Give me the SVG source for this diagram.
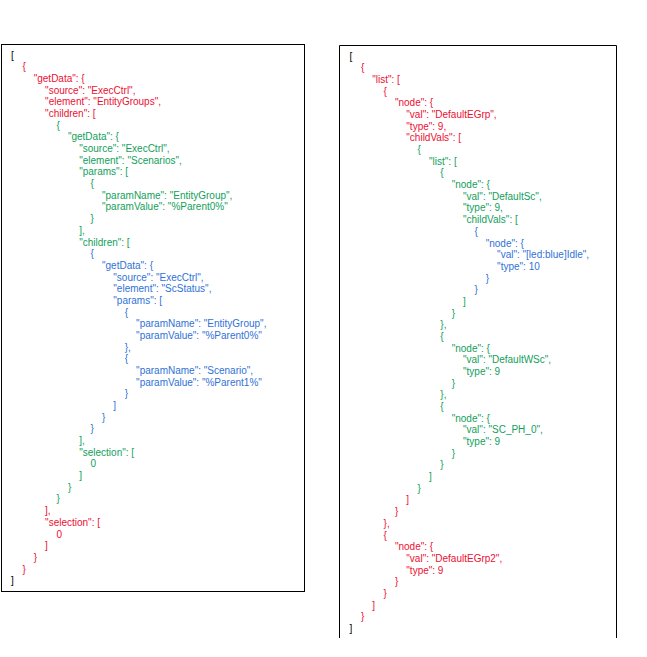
<svg xmlns="http://www.w3.org/2000/svg" width="647" height="657" viewBox="0 0 647 657">
<style>
text{font-family:"Liberation Sans",Arial,sans-serif;font-size:10px}
.k{fill:#000}
.r{fill:#ec0f32}
.g{fill:#12a05a}
.b{fill:#2f72d6}
.frame{fill:none;stroke:#000;stroke-width:1}
</style>
<rect width="647" height="657" fill="#fff"/>
<g id="left-json">
<rect class="frame" x="1.5" y="44.5" width="303" height="547"/>
<text class="k" x="11" y="58.6">[</text>
<text class="r" x="22.4" y="70.3">{</text>
<text class="r" x="33.7" y="82">"getData": {</text>
<text class="r" x="45.1" y="93.6">"source": "ExecCtrl",</text>
<text class="r" x="45.1" y="105.3">"element": "EntityGroups",</text>
<text class="r" x="45.1" y="117">"children": [</text>
<text class="g" x="56.5" y="128.7">{</text>
<text class="g" x="67.9" y="140.4">"getData": {</text>
<text class="g" x="79.2" y="152">"source": "ExecCtrl",</text>
<text class="g" x="79.2" y="163.7">"element": "Scenarios",</text>
<text class="g" x="79.2" y="175.4">"params": [</text>
<text class="g" x="90.6" y="187.1">{</text>
<text class="g" x="102" y="198.8">"paramName": "EntityGroup",</text>
<text class="g" x="102" y="210.4">"paramValue": "%Parent0%"</text>
<text class="g" x="90.6" y="222.1">}</text>
<text class="g" x="79.2" y="233.8">],</text>
<text class="g" x="79.2" y="245.5">"children": [</text>
<text class="b" x="90.6" y="257.2">{</text>
<text class="b" x="102" y="268.8">"getData": {</text>
<text class="b" x="113.3" y="280.5">"source": "ExecCtrl",</text>
<text class="b" x="113.3" y="292.2">"element": "ScStatus",</text>
<text class="b" x="113.3" y="303.9">"params": [</text>
<text class="b" x="124.7" y="315.6">{</text>
<text class="b" x="136.1" y="327.2">"paramName": "EntityGroup",</text>
<text class="b" x="136.1" y="338.9">"paramValue": "%Parent0%"</text>
<text class="b" x="124.7" y="350.6">},</text>
<text class="b" x="124.7" y="362.3">{</text>
<text class="b" x="136.1" y="374">"paramName": "Scenario",</text>
<text class="b" x="136.1" y="385.6">"paramValue": "%Parent1%"</text>
<text class="b" x="124.7" y="397.3">}</text>
<text class="b" x="113.3" y="409">]</text>
<text class="b" x="102" y="420.7">}</text>
<text class="b" x="90.6" y="432.4">}</text>
<text class="g" x="79.2" y="444">],</text>
<text class="g" x="79.2" y="455.7">"selection": [</text>
<text class="g" x="90.6" y="467.4">0</text>
<text class="g" x="79.2" y="479.1">]</text>
<text class="g" x="67.9" y="490.8">}</text>
<text class="g" x="56.5" y="502.4">}</text>
<text class="r" x="45.1" y="514.1">],</text>
<text class="r" x="45.1" y="525.8">"selection": [</text>
<text class="r" x="56.5" y="537.5">0</text>
<text class="r" x="45.1" y="549.2">]</text>
<text class="r" x="33.7" y="560.8">}</text>
<text class="r" x="22.4" y="572.5">}</text>
<text class="k" x="11" y="584.2">]</text>
</g>
<g id="right-json">
<path class="frame" d="M339.5 638V45.5H616.5V638"/>
<text class="k" x="349.5" y="59.6">[</text>
<text class="r" x="360.9" y="71.3">{</text>
<text class="r" x="372.2" y="83">"list": [</text>
<text class="r" x="383.6" y="94.6">{</text>
<text class="r" x="394.9" y="106.3">"node": {</text>
<text class="r" x="406.3" y="118">"val": "DefaultEGrp",</text>
<text class="r" x="406.3" y="129.7">"type": 9,</text>
<text class="r" x="406.3" y="141.4">"childVals": [</text>
<text class="g" x="417.6" y="153">{</text>
<text class="g" x="429" y="164.7">"list": [</text>
<text class="g" x="440.3" y="176.4">{</text>
<text class="g" x="451.7" y="188.1">"node": {</text>
<text class="g" x="463" y="199.8">"val": "DefaultSc",</text>
<text class="g" x="463" y="211.4">"type": 9,</text>
<text class="g" x="463" y="223.1">"childVals": [</text>
<text class="b" x="474.4" y="234.8">{</text>
<text class="b" x="485.7" y="246.5">"node": {</text>
<text class="b" x="497.1" y="258.2">"val": "[led:blue]Idle",</text>
<text class="b" x="497.1" y="269.8">"type": 10</text>
<text class="b" x="485.7" y="281.5">}</text>
<text class="b" x="474.4" y="293.2">}</text>
<text class="g" x="463" y="304.9">]</text>
<text class="g" x="451.7" y="316.6">}</text>
<text class="g" x="440.3" y="328.2">},</text>
<text class="g" x="440.3" y="339.9">{</text>
<text class="g" x="451.7" y="351.6">"node": {</text>
<text class="g" x="463" y="363.3">"val": "DefaultWSc",</text>
<text class="g" x="463" y="375">"type": 9</text>
<text class="g" x="451.7" y="386.6">}</text>
<text class="g" x="440.3" y="398.3">},</text>
<text class="g" x="440.3" y="410">{</text>
<text class="g" x="451.7" y="421.7">"node": {</text>
<text class="g" x="463" y="433.4">"val": "SC_PH_0",</text>
<text class="g" x="463" y="445">"type": 9</text>
<text class="g" x="451.7" y="456.7">}</text>
<text class="g" x="440.3" y="468.4">}</text>
<text class="g" x="429" y="480.1">]</text>
<text class="g" x="417.6" y="491.8">}</text>
<text class="r" x="406.3" y="503.4">]</text>
<text class="r" x="394.9" y="515.1">}</text>
<text class="r" x="383.6" y="526.8">},</text>
<text class="r" x="383.6" y="538.5">{</text>
<text class="r" x="394.9" y="550.2">"node": {</text>
<text class="r" x="406.3" y="561.8">"val": "DefaultEGrp2",</text>
<text class="r" x="406.3" y="573.5">"type": 9</text>
<text class="r" x="394.9" y="585.2">}</text>
<text class="r" x="383.6" y="596.9">}</text>
<text class="r" x="372.2" y="608.6">]</text>
<text class="r" x="360.9" y="620.2">}</text>
<text class="k" x="349.5" y="631.9">]</text>
</g>
</svg>
